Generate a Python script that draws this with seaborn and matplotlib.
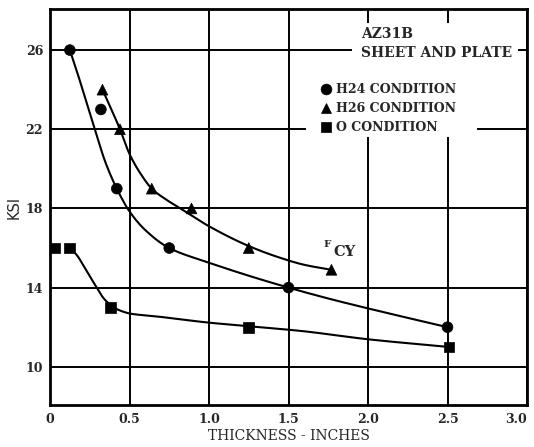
import matplotlib
matplotlib.use("Agg")
import numpy as np
import pandas as pd
import seaborn as sns
import matplotlib.pyplot as plt
from matplotlib.patches import Rectangle

# ---------------- data ----------------
conditions = ["H24 CONDITION", "H26 CONDITION", "O CONDITION"]

h24_thickness = [0.125, 0.32, 0.42, 0.75, 1.5, 2.5]
h24_ksi = [26, 23, 19, 16, 14, 12]

h26_thickness = [0.33, 0.44, 0.64, 0.89, 1.25, 1.77]
h26_ksi = [24, 22, 19, 18, 16, 14.9]

o_thickness = [0.03, 0.125, 0.38, 1.25, 2.51]
o_ksi = [16, 16, 13, 12, 11]

# faired curves as traced on the chart
h24_curve_x = [0.125, 0.18, 0.22, 0.28, 0.35, 0.42, 0.5, 0.6, 0.75, 1.0, 1.25, 1.5, 1.75, 2.0, 2.5]
h24_curve_y = [26.0, 24.65, 23.6, 22.05, 20.3, 19.0, 17.85, 16.9, 16.0, 15.26, 14.6, 14.0, 13.45, 12.95, 12.0]

h26_curve_x = [0.33, 0.44, 0.5, 0.57, 0.64, 0.73, 0.82, 1.0, 1.25, 1.45, 1.6, 1.77]
h26_curve_y = [24.0, 22.0, 20.75, 19.75, 19.0, 18.45, 18.0, 17.1, 16.1, 15.5, 15.15, 14.9]

o_curve_x = [0.125, 0.168, 0.221, 0.284, 0.347, 0.432, 0.516, 0.642, 1.0, 1.25, 1.58, 2.0, 2.51]
o_curve_y = [16.0, 15.65, 14.97, 14.13, 13.37, 12.87, 12.67, 12.57, 12.23, 12.05, 11.81, 11.39, 11.0]

x_ticks = [0, 0.5, 1.0, 1.5, 2.0, 2.5, 3.0]
x_tick_labels = ["0", "0.5", "1.0", "1.5", "2.0", "2.5", "3.0"]
y_ticks = [10, 14, 18, 22, 26]
y_tick_labels = ["10", "14", "18", "22", "26"]


def smooth_path(x, y, n=200):
    """Monotone cubic (PCHIP) rendering of a traced curve, for a smooth stroke."""
    x = np.asarray(x, float)
    y = np.asarray(y, float)
    h = np.diff(x)
    d = np.diff(y) / h
    m = np.zeros_like(y)
    for k in range(1, len(x) - 1):
        if d[k - 1] * d[k] > 0:
            w1 = 2 * h[k] + h[k - 1]
            w2 = h[k] + 2 * h[k - 1]
            m[k] = (w1 + w2) / (w1 / d[k - 1] + w2 / d[k])
    m[0] = d[0]
    m[-1] = d[-1]
    xs = np.linspace(x[0], x[-1], n)
    idx = np.clip(np.searchsorted(x, xs) - 1, 0, len(x) - 2)
    t = (xs - x[idx]) / h[idx]
    h00 = 2 * t**3 - 3 * t**2 + 1
    h10 = t**3 - 2 * t**2 + t
    h01 = -2 * t**3 + 3 * t**2
    h11 = t**3 - t**2
    ys = h00 * y[idx] + h10 * h[idx] * m[idx] + h01 * y[idx + 1] + h11 * h[idx] * m[idx + 1]
    return xs, ys


# ---------------- build tables ----------------
points = pd.DataFrame({
    "thickness": h24_thickness + h26_thickness + o_thickness,
    "ksi": h24_ksi + h26_ksi + o_ksi,
    "condition": [conditions[0]] * len(h24_thickness)
    + [conditions[1]] * len(h26_thickness)
    + [conditions[2]] * len(o_thickness),
})

sns.set_style("white")
plt.rcParams["font.family"] = ["DejaVu Serif", "DejaVu Sans"]

fig = plt.figure(figsize=(5.34, 4.47), dpi=100)
ax = fig.add_axes([50 / 534, 1 - 405 / 447, 477 / 534, 395.7 / 447])

# grid
ax.set_xlim(0, 3.0)
ax.set_ylim(8.07, 28.06)
ax.set_xticks(x_ticks)
ax.set_yticks(y_ticks)
ax.grid(True, color="black", linewidth=1.4)
ax.set_axisbelow(True)

# white areas behind the text blocks (interrupt the grid)
ax.add_patch(Rectangle((1.897, 25.39), 2.945 - 1.897, 27.36 - 25.39,
                       facecolor="white", edgecolor="none", zorder=1.5))
ax.add_patch(Rectangle((1.61, 21.62), 2.684 - 1.61, 25.39 - 21.62,
                       facecolor="white", edgecolor="none", zorder=1.5))

# curves
for cx, cy in [(h24_curve_x, h24_curve_y), (h26_curve_x, h26_curve_y), (o_curve_x, o_curve_y)]:
    sx, sy = smooth_path(cx, cy)
    sns.lineplot(x=sx, y=sy, sort=False, estimator=None, color="black",
                 linewidth=1.5, ax=ax, zorder=2)

# points
sns.scatterplot(data=points, x="thickness", y="ksi", style="condition",
                markers={conditions[0]: "o", conditions[1]: "^", conditions[2]: "s"},
                color="black", s=60, edgecolor="black", linewidth=0.5,
                ax=ax, zorder=3, legend=True)

handles, labels = ax.get_legend_handles_labels()
leg = ax.legend(handles, labels, loc="upper left",
                bbox_to_anchor=((320 - 50) / 477, (405 - 83) / 395.7),
                frameon=False, borderpad=0, borderaxespad=0,
                handlelength=1.0, handletextpad=0.25, labelspacing=0.48,
                prop={"family": "DejaVu Serif", "weight": "bold", "size": 9})

# annotations
ax.text(1.954, 26.62, "AZ31B", fontsize=10, fontweight="bold",
        ha="left", va="baseline", zorder=4)
ax.text(1.954, 25.66, "SHEET AND PLATE", fontsize=10, fontweight="bold",
        ha="left", va="baseline", zorder=4)
ax.text(1.72, 16.05, "F", fontsize=7.5, fontweight="bold", ha="left", va="baseline", zorder=4)
ax.text(1.785, 15.62, "CY", fontsize=10.5, fontweight="bold", ha="left", va="baseline", zorder=4)

# ticks and labels
ax.set_xticklabels(x_tick_labels, fontsize=9, fontweight="bold")
ax.set_yticklabels(y_tick_labels, fontsize=9, fontweight="bold")
xl = ax.get_xticklabels()
xl[-1].set_horizontalalignment("right")
ax.tick_params(axis="both", length=0)
ax.tick_params(axis="x", pad=6)
ax.tick_params(axis="y", pad=5)
ax.set_xlabel("THICKNESS - INCHES", fontsize=10, labelpad=2)
ax.set_ylabel("KSI", fontsize=10.5, family="DejaVu Sans", labelpad=3)

for sp in ax.spines.values():
    sp.set_color("black")
    sp.set_linewidth(2.0)
    sp.set_visible(True)

fig.savefig("out.png", dpi=100, facecolor="white")
